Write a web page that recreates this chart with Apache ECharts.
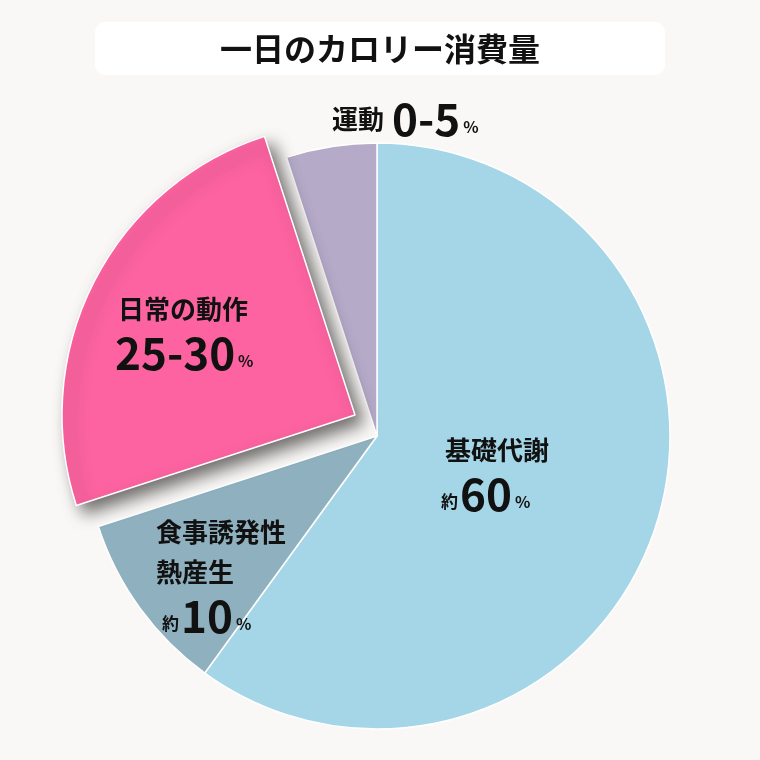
<!DOCTYPE html>
<html><head><meta charset="utf-8">
<script src="https://cdn.jsdelivr.net/npm/echarts@6/dist/echarts.min.js"></script>
<style>html,body{margin:0;padding:0;background:#faf8f6}#c{width:760px;height:760px}</style>
</head><body><div id="c"></div>
<script>
const titleText = '一日のカロリー消費量';
const categories = ['基礎代謝', '食事誘発性熱産生', '日常の動作', '運動'];
const values = [60, 10, 25, 5];
const nameLines = [['基礎代謝'], ['食事誘発性', '熱産生'], ['日常の動作'], ['運動']];
const prefixes = ['約', '約', '', ''];
const rangeTexts = ['60', '10', '25-30', '0-5'];
const colors = ['#a4d6e7', '#8fb0be', '#fc63a0', '#b6aac9'];
const explodedIndex = 2;

const FONT = '"Noto Sans CJK JP", "Noto Sans", sans-serif';
// label anchors and indents (style)
const labelPos = [
  {x: 441, y: 474, align: 'left', nameIndent: 4, lastIndent: 0},
  {x: 156, y: 576, align: 'left', nameIndent: 0, lastIndent: 6},
  {x: 115, y: 333, align: 'left', nameIndent: 3, lastIndent: 0},
  {x: 332, y: 119, align: 'left', nameIndent: 0, lastIndent: 0}
];

function indent(w) { return w > 0 ? '{i' + w + '| }' : ''; }

function fmt(i) {
  const lp = labelPos[i];
  const lines = nameLines[i].map(s => indent(lp.nameIndent) + '{n|' + s + '}');
  let last = indent(lp.lastIndent) + (prefixes[i] ? '{s|' + prefixes[i] + '}' : '') + '{b|' + rangeTexts[i] + '}{p|%}';
  if (i === 3) return lines.join('') + '{sp| }' + last;
  return lines.join('\n') + '\n' + last;
}

const rich = {
  n: {fontSize: 26, fontWeight: 'bold', color: '#111', lineHeight: 40, fontFamily: FONT},
  b: {fontSize: 44, fontWeight: 'bold', color: '#111', lineHeight: 48, fontFamily: FONT},
  sp: {fontSize: 14, width: 8},
  i3: {fontSize: 10, width: 3},
  i4: {fontSize: 10, width: 4},
  i6: {fontSize: 10, width: 6},
  s: {fontSize: 17, fontWeight: 'bold', color: '#111', padding: [15, 2, 0, 0], fontFamily: FONT},
  p: {fontSize: 16, fontWeight: 'bold', color: '#111', padding: [15, 0, 0, 3], fontFamily: FONT}
};

function makeData(forExploded) {
  return categories.map((c, i) => {
    const isEx = i === explodedIndex;
    const visible = forExploded ? isEx : !isEx;
    const item = {name: c, value: values[i]};
    item.itemStyle = visible ? {
      color: colors[i], borderColor: '#ffffff', borderWidth: 1.5,
      shadowBlur: isEx ? 16 : 0, shadowOffsetX: isEx ? 8 : 0, shadowOffsetY: isEx ? 8 : 0,
      shadowColor: 'rgba(0,0,0,0.55)'
    } : {color: 'rgba(0,0,0,0)', borderWidth: 0};
    item.label = visible ? {show: true, formatter: fmt(i), rich: rich, position: 'inside'} : {show: false};
    return item;
  });
}

function layoutFn(params) {
  const p = labelPos[params.dataIndex];
  return {x: p.x, y: p.y, align: p.align, verticalAlign: 'middle'};
}

const chart = echarts.init(document.getElementById('c'), null, {renderer: 'canvas'});
chart.setOption({
  backgroundColor: '#faf8f6',
  animation: false,
  title: {
    text: titleText, left: 'center', top: 22,
    backgroundColor: '#ffffff', borderRadius: 10, padding: [10, 125, 10, 125],
    textStyle: {fontSize: 32, fontWeight: 'bold', color: '#111', fontFamily: FONT, lineHeight: 33}
  },
  series: [
    {
      type: 'pie', center: [377, 436], radius: [0, 293], startAngle: 90, clockwise: true,
      silent: true, avoidLabelOverlap: false, labelLine: {show: false},
      data: makeData(false), labelLayout: layoutFn
    },
    {
      type: 'pie', center: [355, 415], radius: [0, 293], startAngle: 90, clockwise: true,
      silent: true, avoidLabelOverlap: false, labelLine: {show: false},
      data: makeData(true), labelLayout: layoutFn
    }
  ],
  graphic: [
    {type: 'line', shape: {x1: 340, y1: 146, x2: 340, y2: 176}, style: {stroke: '#111', lineWidth: 1.5}, silent: true},
    {type: 'circle', shape: {cx: 340, cy: 177, r: 3.2}, style: {fill: '#111'}, silent: true}
  ]
});
</script></body></html>
